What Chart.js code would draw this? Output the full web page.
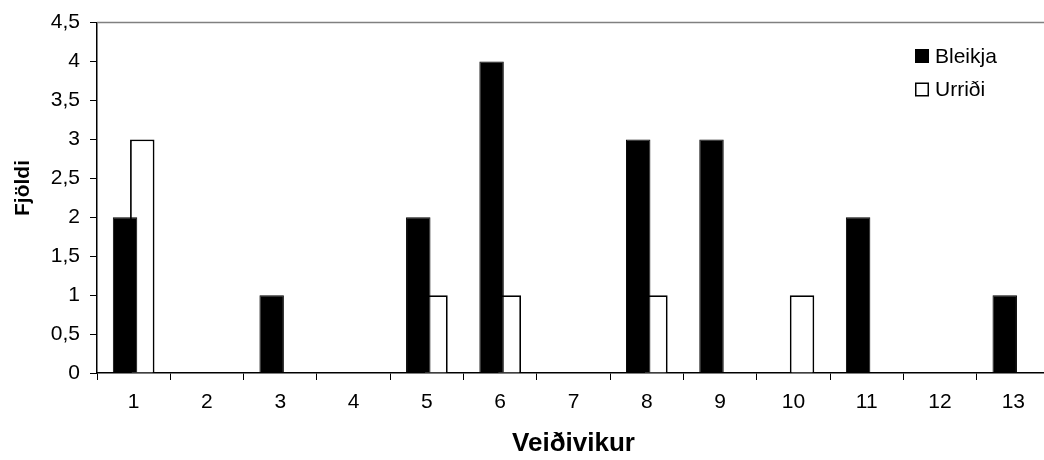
<!DOCTYPE html>
<html>
<head>
<meta charset="utf-8">
<script src="https://cdn.jsdelivr.net/npm/chart.js@4"></script>
<style>
html,body{margin:0;padding:0;background:#fff;overflow:hidden;}
#wrap{width:1060px;height:460px;}
</style>
</head>
<body>
<div id="wrap"><canvas id="c" width="1060" height="460"></canvas></div>
<script>
const categories = ['1','2','3','4','5','6','7','8','9','10','11','12','13'];
const bleikja = [2,0,1,0,2,4,0,3,3,0,2,0,1];
const urridi  = [3,0,0,0,1,1,0,1,0,1,0,0,0];
const seriesNames = ['Bleikja','Urriði'];
const xTitle = 'Veiðivikur';
const yTitle = 'Fjöldi';
const yTicks = {min:0, max:4.5, step:0.5};

const FONT = '"Liberation Sans", Arial, sans-serif';

const extras = {
  id:'extras',
  afterDraw(chart){
    const {ctx, chartArea:a} = chart;
    ctx.save();
    // top border of plot area
    ctx.strokeStyle = '#808080';
    ctx.lineWidth = 1.5;
    ctx.beginPath();
    ctx.moveTo(a.left, a.top);
    ctx.lineTo(a.right, a.top);
    ctx.stroke();
    // y axis title
    ctx.save();
    ctx.translate(23, 188);
    ctx.rotate(-Math.PI/2);
    ctx.font = 'bold 21px ' + FONT;
    ctx.fillStyle = '#000';
    ctx.textAlign = 'center';
    ctx.textBaseline = 'middle';
    ctx.fillText(yTitle, 0, 0);
    ctx.restore();
    // legend
    ctx.font = '21px ' + FONT;
    ctx.textBaseline = 'middle';
    ctx.textAlign = 'left';
    const lx = 915, ly0 = 56, dy = 33.5, box = 14;
    chart.data.datasets.forEach((ds,i)=>{
      const y = ly0 + i*dy;
      ctx.fillStyle = ds.backgroundColor;
      ctx.fillRect(lx, y - box/2, box, box);
      ctx.strokeStyle = '#000';
      ctx.lineWidth = 1.5;
      ctx.strokeRect(lx + 0.75, y - box/2 + 0.75, box - 1.5, box - 1.5);
      ctx.fillStyle = '#000';
      ctx.fillText(ds.label, lx + box + 6, y + 1);
    });
    ctx.restore();
  }
};

new Chart(document.getElementById('c'), {
  type:'bar',
  data:{
    labels: categories,
    datasets:[
      {label:seriesNames[0], data:bleikja, backgroundColor:'#000000', borderColor:'#000000', borderWidth:1, categoryPercentage:0.47, barPercentage:1.42},
      {label:seriesNames[1], data:urridi, backgroundColor:'#ffffff', borderColor:'#000000', borderWidth:1.8, categoryPercentage:0.47, barPercentage:1.42}
    ]
  },
  options:{
    responsive:false,
    animation:false,
    devicePixelRatio:1,
    layout:{padding:{top:20, right:10, left:0, bottom:0}},
    plugins:{legend:{display:false}, tooltip:{enabled:false}},
    scales:{
      x:{
        grid:{offset:true, drawOnChartArea:false, drawTicks:true, tickLength:7, color:'#000', lineWidth:1},
        border:{color:'#000', width:1.5},
        ticks:{color:'#000', font:{family:FONT, size:21}, padding:10, maxRotation:0},
        title:{display:true, text:xTitle, color:'#000', font:{family:FONT, size:26, weight:'bold'}, padding:{top:0, bottom:1}},
        afterFit(s){ s.height = 87; }
      },
      y:{
        min:yTicks.min, max:yTicks.max,
        ticks:{stepSize:yTicks.step, color:'#000', font:{family:FONT, size:21}, padding:10,
          callback:(v)=>String(v).replace('.', ',')},
        grid:{drawOnChartArea:false, drawTicks:true, tickLength:7, color:'#000', lineWidth:1},
        border:{color:'#000', width:1.5},
        title:{display:false, text:yTitle},
        afterFit(s){ s.width = 97; }
      }
    }
  },
  plugins:[extras]
});
</script>
</body>
</html>
